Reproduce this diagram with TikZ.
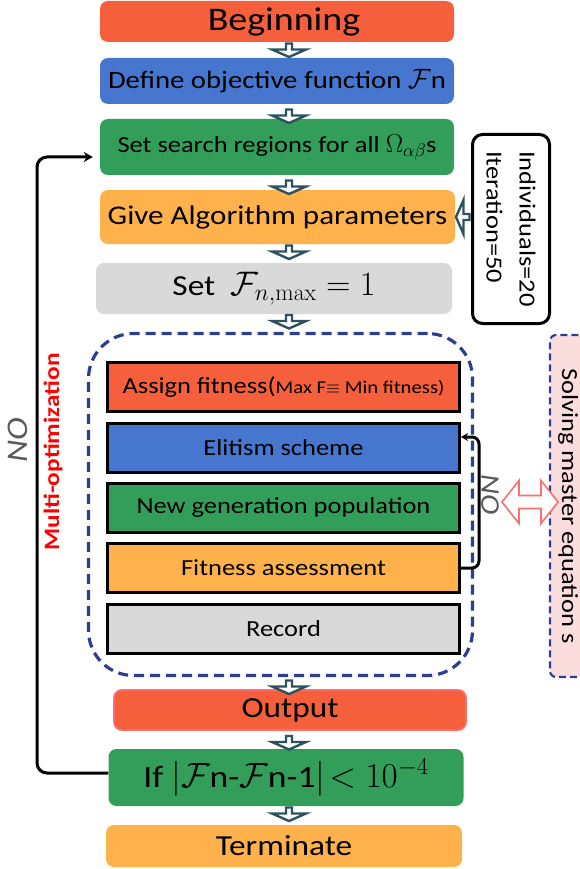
\RequirePackage{fix-cm}
\documentclass[tikz,border=0pt]{standalone}
\usepackage{amsmath}
\usepackage[no-math]{fontspec}
\setmainfont{Carlito}[FakeStretch=1.15]
\usetikzlibrary{arrows.meta,calc,positioning}
\definecolor{redcol}{RGB}{245,95,59}
\definecolor{bluecol}{RGB}{70,118,206}
\definecolor{greencol}{RGB}{50,158,90}
\definecolor{orangecol}{RGB}{255,178,76}
\definecolor{greycol}{RGB}{217,217,217}
\definecolor{navycol}{RGB}{44,62,145}
\definecolor{tealcol}{RGB}{45,82,94}
\definecolor{pinkcol}{RGB}{252,221,221}
\definecolor{pinkline}{RGB}{255,110,110}
\definecolor{nocol}{RGB}{90,90,90}
\newcommand{\fsz}[1]{\fontsize{#1}{#1}\selectfont}
\tikzset{
  hollowdown/.pic={\draw[tealcol,line width=2.4pt,fill=white]
    (-3,-6.5) -- (3,-6.5) -- (3,-0.5) -- (17,-0.5) -- (0,7) -- (-17,-0.5) -- (-3,-0.5) -- cycle;}
}

\begin{document}
\begin{tikzpicture}[x=1pt,y=-1pt,>=Stealth,
  stepbox/.style={rounded corners=8pt,inner sep=0pt,text=black},
  innerbox/.style={draw=black,line width=3pt,minimum width=352pt,minimum height=49pt,inner sep=0pt,font=\fsz{23}},
  loopline/.style={black,line width=3pt,rounded corners=10pt,-{Stealth[length=9pt,width=10pt]}},
  nolabel/.style={text=nocol,font=\itshape\fsz{30}}]
\useasboundingbox (0,0) rectangle (579,869);
% main column of steps
\node[stepbox,fill=redcol,minimum width=354pt,minimum height=41pt,font=\fsz{33}] (begin) at (277,21.5) {\hspace*{14pt}Beginning};
\node[stepbox,fill=bluecol,minimum width=354pt,minimum height=46pt,font=\fsz{25}] (define) at (277,81) {Define objective function {\fsz{28}$\mathcal{F}$}n};
\node[stepbox,fill=greencol,minimum width=354pt,minimum height=56pt,font=\fsz{23}] (search) at (277,147) {Set search regions for all {\fsz{26}$\Omega_{\alpha\beta}$}s};
\node[stepbox,fill=orangecol,minimum width=355pt,minimum height=54pt,font=\fsz{27}] (params) at (277.5,217) {Give Algorithm parameters};
\node[stepbox,fill=greycol,minimum width=356pt,minimum height=51pt,font=\fsz{29}] (setf) at (274,288.5) {Set\ \ {\fsz{34}$\mathcal{F}_{n,\max}=1$}};
% GA loop inside the dashed frame
\node[draw=navycol,line width=3.2pt,dash pattern=on 10pt off 6pt,rounded corners=45pt,minimum width=384pt,minimum height=342pt] (gabox) at (280.5,504.5) {};
\node[innerbox,fill=redcol] (assign) at (283.5,387) {Assign fitness({\fsz{18}Max F$\equiv$ Min fitness)}};
\node[innerbox,fill=bluecol] (elit) at (283.5,447.5) {Elitism scheme};
\node[innerbox,fill=greencol] (newgen) at (283.5,507.5) {New generation population};
\node[innerbox,fill=orangecol] (fitass) at (283.5,568) {Fitness assessment};
\node[innerbox,fill=greycol] (record) at (283.5,628.5) {Record};
\draw[black,line width=3pt,rounded corners=7pt,-{Stealth[length=7pt,width=8pt]}] (fitass.east) -- (479,568) |- ([yshift=10.5pt]elit.east);
\node[nolabel,rotate=-90,font=\itshape\fsz{27}] (noin) at (490,495) {NO};
% output part
\node[stepbox,fill=redcol,draw=pinkline,line width=1.8pt,minimum width=352pt,minimum height=40pt,font=\fsz{29}] (output) at (290,710) {Output};
\node[stepbox,fill=greencol,minimum width=355pt,minimum height=57pt,font=\fsz{31}] (ifbox) at (286,777.5) {If {\fsz{35}$|\mathcal{F}$}n-{\fsz{35}$\mathcal{F}$}n-1{\fsz{35}$|\!<10^{-4}$}};
\node[stepbox,fill=orangecol,minimum width=356pt,minimum height=42pt,font=\fsz{29}] (term) at (284,846) {Terminate};
% hollow arrows between steps
\pic at (289,50) {hollowdown};
\pic at (289,116) {hollowdown};
\pic at (289,187) {hollowdown};
\pic at (289,252) {hollowdown};
\pic at (289,321.5) {hollowdown};
\pic at (289,687) {hollowdown};
\pic at (289,742.5) {hollowdown};
\pic at (289,814) {hollowdown};
% parameters box on the right
\node[draw,line width=3pt,rounded corners=10pt,rotate=-90,minimum width=189pt,minimum height=77pt,align=left,font=\fontsize{23}{33}\selectfont] (indiv) at (511,229) {Individuals=20\\Iteration=50\hspace*{12pt}};
\pic[rotate=-90] at (463,217) {hollowdown};
% master equation solver
\node[draw=navycol,fill=pinkcol,line width=2.2pt,dash pattern=on 7pt off 4pt,rounded corners=6pt,rotate=-90,minimum width=342pt,minimum height=36pt,font=\fsz{23}] (master) at (568,506) {Solving master equation s};
\draw[pinkline,line width=1.6pt,fill=white] (502,502) -- (519,480.5) -- (519,495.5) -- (541,495.5) -- (541,480.5) -- (558,502) -- (541,523.5) -- (541,508.5) -- (519,508.5) -- (519,523.5) -- cycle;
% outer loop back to the search regions
\draw[loopline,shorten >=7pt] ([yshift=4.5pt]ifbox.west) -| (37,400) |- ([yshift=-10pt]search.west);
\node[nolabel,rotate=90] (noleft) at (18,440) {NO};
\node[text=red,font=\bfseries\fsz{22},rotate=90] (multi) at (53,452) {Multi-optimization};
\end{tikzpicture}
\end{document}
